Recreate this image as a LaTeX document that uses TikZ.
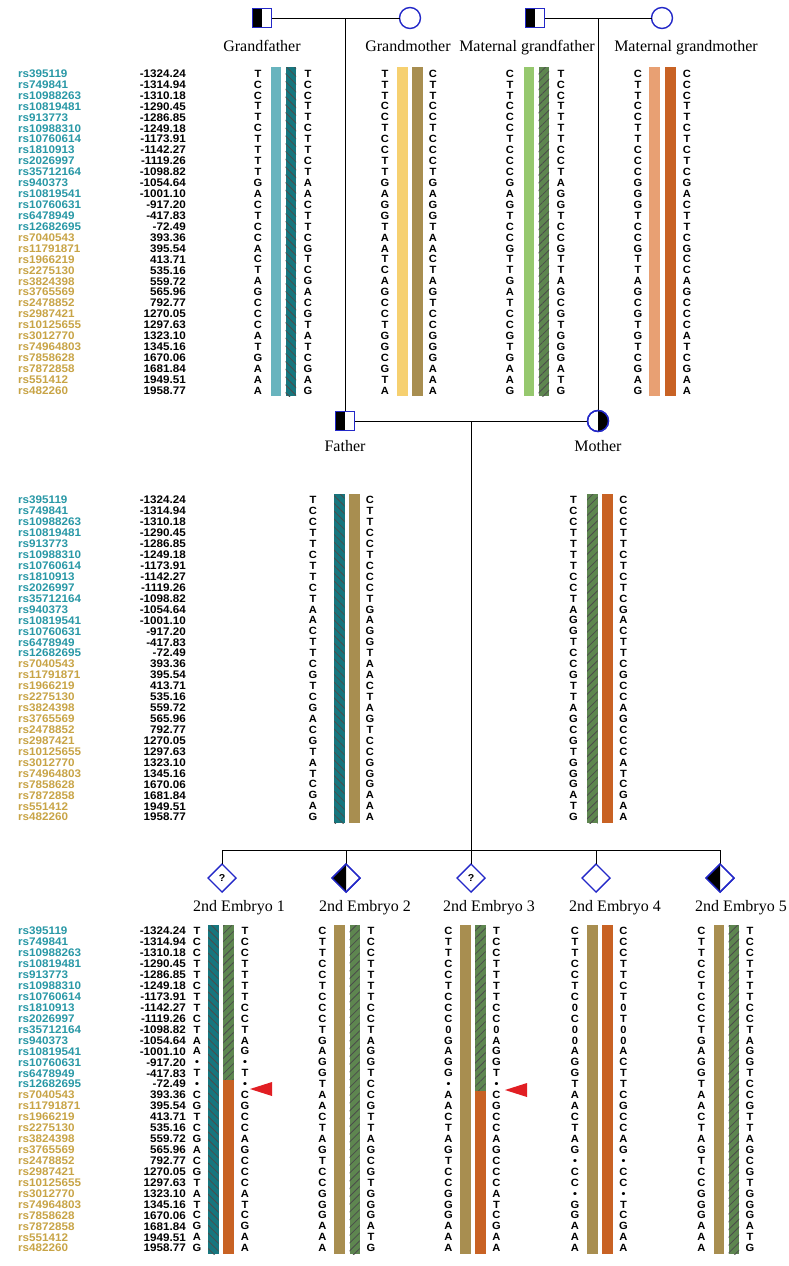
\documentclass[tikz,border=0pt]{standalone}
\usepackage{fontspec}
\setmainfont{Liberation Serif}
\newfontfamily\snpfont[FakeStretch=1.06]{Liberation Sans}
\usetikzlibrary{shapes.geometric,patterns.meta}
\definecolor{snpteal}{RGB}{40,152,166}
\definecolor{snpgold}{RGB}{200,164,70}
\definecolor{symblue}{RGB}{35,40,200}
\definecolor{tealL}{RGB}{104,180,190}
\definecolor{tealD}{RGB}{22,118,126}
\definecolor{yellowL}{RGB}{246,208,112}
\definecolor{khaki}{RGB}{168,142,80}
\definecolor{greenL}{RGB}{150,200,110}
\definecolor{greenD}{RGB}{94,134,80}
\definecolor{orangeL}{RGB}{232,160,115}
\definecolor{orangeD}{RGB}{200,98,36}
\definecolor{arrowred}{RGB}{225,30,35}
\def\dy{10.93}
\newcommand\allelecol[4]{%
  \edef\alllist{#4}%
  \foreach \a [count=\i] in \alllist {\node[allele] (#3-\i) at (#1,{#2+(\i-1)*\dy}) {\a};}}
\newcommand\snplist[2]{%
  \foreach \n/\v [count=\i] in {rs395119/-1324.24,rs749841/-1314.94,rs10988263/-1310.18,rs10819481/-1290.45,rs913773/-1286.85,rs10988310/-1249.18,rs10760614/-1173.91,rs1810913/-1142.27,rs2026997/-1119.26,rs35712164/-1098.82,rs940373/-1054.64,rs10819541/-1001.10,rs10760631/-917.20,rs6478949/-417.83,rs12682695/-72.49}
    {\node[snpname, text=snpteal] (#2n\i) at (18,{#1+(\i-1)*\dy}) {\n};
     \node[snpnum] (#2v\i) at (186,{#1+(\i-1)*\dy}) {\v};}
  \foreach \n/\v [count=\i from 16] in {rs7040543/393.36,rs11791871/395.54,rs1966219/413.71,rs2275130/535.16,rs3824398/559.72,rs3765569/565.96,rs2478852/792.77,rs2987421/1270.05,rs10125655/1297.63,rs3012770/1323.10,rs74964803/1345.16,rs7858628/1670.06,rs7872858/1681.84,rs551412/1949.51,rs482260/1958.77}
    {\node[snpname, text=snpgold] (#2n\i) at (18,{#1+(\i-1)*\dy}) {\n};
     \node[snpnum] (#2v\i) at (186,{#1+(\i-1)*\dy}) {\v};}}
% plain bar: x1,x2,y1,y2,color
\newcommand\plainbar[5]{\fill[#5] (#1,#3) rectangle (#2,#4);}
% hatched bar: x1,x2,y1,y2,color,angle
\newcommand\hatchbar[6]{\fill[#5, postaction={pattern={Lines[angle=#6,distance=5.5pt,line width=0.8pt]}, pattern color=black!70}] (#1,#3) rectangle (#2,#4);}
\def\GFa{T,C,C,T,T,C,T,T,T,T,G,A,C,T,C,C,A,C,T,A,G,C,C,C,A,T,G,A,A,A}
\def\GFb{T,C,C,T,T,C,T,T,C,T,A,A,C,T,T,C,G,T,C,G,A,C,G,T,A,T,C,G,A,G}
\def\GMa{T,T,T,C,C,T,C,C,T,T,G,A,G,G,T,A,A,T,C,A,G,C,C,T,G,G,C,G,T,A}
\def\GMb{C,T,T,C,C,T,C,C,C,T,G,A,G,G,T,A,A,C,T,A,G,T,C,C,G,G,G,A,A,A}
\def\MFa{C,T,T,C,C,C,T,C,C,C,G,A,G,T,C,C,G,T,T,G,A,T,C,C,G,T,G,A,A,G}
\def\MFb{T,C,C,T,T,T,T,C,C,T,A,G,G,T,C,C,G,T,T,A,G,C,G,T,G,G,G,A,T,G}
\def\MMa{C,T,T,C,C,T,T,C,C,C,G,G,G,T,C,C,G,T,T,A,G,C,G,T,G,T,C,G,A,G}
\def\MMb{C,C,C,T,T,C,T,C,T,C,G,A,C,T,T,C,G,C,C,A,G,C,C,C,A,T,C,G,A,A}
\begin{document}
\begin{tikzpicture}[x=1pt,y=-1pt,
  allele/.style={font=\snpfont\bfseries\fontsize{10.5}{10.5}\selectfont, inner sep=0pt, text height=7.5pt, text depth=0pt, anchor=center},
  snpname/.style={font=\snpfont\bfseries\fontsize{11}{11}\selectfont, inner sep=0pt, text height=7.9pt, text depth=0pt, anchor=west},
  snpnum/.style={snpname, text=black, anchor=east},
  lbl/.style={font=\fontsize{16}{16}\selectfont, inner sep=0pt, anchor=base},
  sym/.style={draw=symblue, line width=1.4pt, fill=white, inner sep=0pt, outer sep=0pt},
  sq/.style={sym, rectangle, minimum size=19pt},
  ci/.style={sym, circle, minimum size=21pt},
  dm/.style={sym, diamond, minimum width=28pt, minimum height=28pt},
  link/.style={draw=black, line width=0.8pt},
  qm/.style={font=\snpfont\bfseries\fontsize{10}{10}\selectfont, inner sep=0pt},
  arrowtri/.style={fill=arrowred},
]
\useasboundingbox (0,0) rectangle (789,1266);
\fill[white] (0,0) rectangle (789,1266);

% ---------- pedigree lines ----------
\coordinate (gpl) at (345,18);
\coordinate (mgpl) at (598,18);
\coordinate (ppl) at (471,421);
\coordinate (sib) at (471,850);
\coordinate (sibL) at (222,850);
\coordinate (sibR) at (720,850);
\coordinate (s1) at (222,850);
\coordinate (s2) at (346,850);
\coordinate (s3) at (471,850);
\coordinate (s4) at (596,850);
\coordinate (s5) at (720,850);

\node[sq] (gf) at (262,18) {};
\node[ci] (gm) at (410,18) {};
\node[sq] (mgf) at (535,18) {};
\node[ci] (mgm) at (662,18) {};
\node[sq] (fa) at (345,421) {};
\node[ci] (mo) at (598,421) {};
\node[dm] (e1) at (222,878) {};
\node[dm] (e2) at (346,878) {};
\node[dm] (e3) at (471,878) {};
\node[dm] (e4) at (596,878) {};
\node[dm] (e5) at (720,878) {};

\draw[link] (gf.east) -- (gm.west);
\draw[link] (mgf.east) -- (mgm.west);
\draw[link] (gpl) -- (fa.north);
\draw[link] (mgpl) -- (mo.north);
\draw[link] (fa.east) -- (mo.west);
\draw[link] (ppl) -- (sib);
\draw[link] (sibL) -- (sibR);
\draw[link] (s1) -- (e1.north);
\draw[link] (s2) -- (e2.north);
\draw[link] (s3) -- (e3.north);
\draw[link] (s4) -- (e4.north);
\draw[link] (s5) -- (e5.north);

% half fills
\fill[black] (gf.north west) rectangle (gf.south);
\draw[symblue, line width=1.4pt] (gf.north west) rectangle (gf.south east);
\fill[black] (mgf.north west) rectangle (mgf.south);
\draw[symblue, line width=1.4pt] (mgf.north west) rectangle (mgf.south east);
\fill[black] (fa.north west) rectangle (fa.south);
\draw[symblue, line width=1.4pt] (fa.north west) rectangle (fa.south east);
\begin{scope}
  \clip (598,403) rectangle (615,439);
  \fill[black] (mo.center) circle[radius=10.5];
\end{scope}
\draw[symblue, line width=1.4pt] (mo.center) circle[radius=10.5];
\fill[black] (e2.north) -- (e2.west) -- (e2.south) -- cycle;
\draw[symblue, line width=1.4pt] (e2.north) -- (e2.east) -- (e2.south) -- (e2.west) -- cycle;
\fill[black] (e5.north) -- (e5.west) -- (e5.south) -- cycle;
\draw[symblue, line width=1.4pt] (e5.north) -- (e5.east) -- (e5.south) -- (e5.west) -- cycle;
\node[qm] (q1) at (e1.center) {?};
\node[qm] (q3) at (e3.center) {?};

% labels
\node[lbl] (lgf) at (262,51) {Grandfather};
\node[lbl] (lgm) at (408,51) {Grandmother};
\node[lbl] (lmgf) at (527,51) {Maternal grandfather};
\node[lbl] (lmgm) at (686,51) {Maternal grandmother};
\node[lbl] (lfa) at (345,451) {Father};
\node[lbl] (lmo) at (598,451) {Mother};
\node[lbl] (le1) at (239,911) {2nd Embryo 1};
\node[lbl] (le2) at (365,911) {2nd Embryo 2};
\node[lbl] (le3) at (489,911) {2nd Embryo 3};
\node[lbl] (le4) at (615,911) {2nd Embryo 4};
\node[lbl] (le5) at (741,911) {2nd Embryo 5};

% ---------- SNP lists ----------
\snplist{73.4}{t}
\snplist{500}{m}
\snplist{931}{b}

% ---------- top block ----------
\def\ta{67.4}\def\tb{396.4}
\plainbar{271}{281}{\ta}{\tb}{tealL}
\hatchbar{285.5}{296}{\ta}{\tb}{tealD}{-45}
\allelecol{258}{73.4}{gfa}{\GFa}
\allelecol{308}{73.4}{gfb}{\GFb}
\plainbar{397}{407.5}{\ta}{\tb}{yellowL}
\plainbar{412}{422.5}{\ta}{\tb}{khaki}
\allelecol{385}{73.4}{gma}{\GMa}
\allelecol{433}{73.4}{gmb}{\GMb}
\plainbar{523.5}{534}{\ta}{\tb}{greenL}
\hatchbar{538.5}{549}{\ta}{\tb}{greenD}{45}
\allelecol{510}{73.4}{mfa}{\MFa}
\allelecol{561}{73.4}{mfb}{\MFb}
\plainbar{649}{660}{\ta}{\tb}{orangeL}
\plainbar{664.5}{675.5}{\ta}{\tb}{orangeD}
\allelecol{638}{73.4}{mma}{\MMa}
\allelecol{687}{73.4}{mmb}{\MMb}

% ---------- middle block ----------
\def\ma{494}\def\mb{823}
\hatchbar{334}{344.5}{\ma}{\mb}{tealD}{-45}
\plainbar{349}{359.5}{\ma}{\mb}{khaki}
\allelecol{313}{500}{faa}{\GFb}
\allelecol{370}{500}{fab}{\GMb}
\hatchbar{587}{597.5}{\ma}{\mb}{greenD}{45}
\plainbar{602}{612.5}{\ma}{\mb}{orangeD}
\allelecol{573.5}{500}{moa}{\MFb}
\allelecol{623.5}{500}{mob}{\MMb}

% ---------- bottom block ----------
\def\ba{925}\def\bb{1254}
% embryo 1
\hatchbar{208}{218.5}{\ba}{\bb}{tealD}{-45}
\hatchbar{223}{233.5}{\ba}{1080}{greenD}{45}
\plainbar{223}{233.5}{1080}{\bb}{orangeD}
\allelecol{197}{931}{e1a}{T,C,C,T,T,C,T,T,C,T,A,A,•,T,•,C,G,T,C,G,A,C,G,T,A,T,C,G,A,G}
\allelecol{245}{931}{e1b}{T,C,C,T,T,T,T,C,C,T,A,G,•,T,•,C,G,C,C,A,G,C,C,C,A,T,C,G,A,A}
\fill[arrowtri] (250,1089) -- (272,1082) -- (272,1096) -- cycle;
% embryo 2
\plainbar{334}{344.5}{\ba}{\bb}{khaki}
\hatchbar{349.5}{359.5}{\ba}{\bb}{greenD}{45}
\allelecol{322.5}{931}{e2a}{\GMb}
\allelecol{371}{931}{e2b}{\MFb}
% embryo 3
\plainbar{460}{470.5}{\ba}{\bb}{khaki}
\hatchbar{475}{485.5}{\ba}{1091}{greenD}{45}
\plainbar{475}{485.5}{1091}{\bb}{orangeD}
\allelecol{448.5}{931}{e3a}{C,T,T,C,C,T,C,C,C,0,G,A,G,G,•,A,A,C,T,A,G,T,C,C,G,G,G,A,A,A}
\allelecol{496.5}{931}{e3b}{T,C,C,T,T,T,T,C,C,0,A,G,G,T,•,C,G,C,C,A,G,C,C,C,A,T,C,G,A,A}
\fill[arrowtri] (505,1090) -- (527,1083) -- (527,1097) -- cycle;
% embryo 4
\plainbar{587}{597.5}{\ba}{\bb}{khaki}
\plainbar{602}{612.5}{\ba}{\bb}{orangeD}
\allelecol{575}{931}{e4a}{C,T,T,C,C,T,C,0,C,0,0,A,G,G,T,A,A,C,T,A,G,•,C,C,•,G,G,A,A,A}
\allelecol{623.5}{931}{e4b}{C,C,C,T,T,C,T,0,T,0,0,A,C,T,T,C,G,C,C,A,G,•,C,C,•,T,C,G,A,A}
% embryo 5
\plainbar{713.5}{724}{\ba}{\bb}{khaki}
\hatchbar{728.5}{739}{\ba}{\bb}{greenD}{45}
\allelecol{701.5}{931}{e5a}{\GMb}
\allelecol{750}{931}{e5b}{\MFb}
\end{tikzpicture}
\end{document}
